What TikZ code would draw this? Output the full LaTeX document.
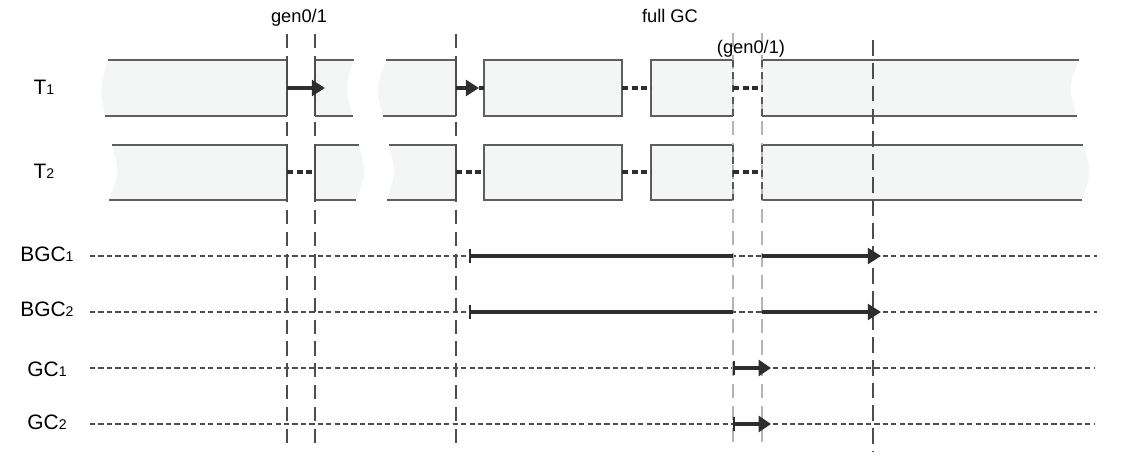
\documentclass[tikz,border=0pt]{standalone}
\usepackage{fontspec}
\setmainfont{Liberation Sans}
\usepackage{tikz}
\usetikzlibrary{arrows.meta}
\definecolor{band}{HTML}{F4F5F5}
\definecolor{edge}{HTML}{5E5E5E}
\definecolor{ink}{HTML}{2E2E2E}
\definecolor{guide}{HTML}{B4B4B4}
\newcommand{\ix}[1]{{\fontsize{8pt}{8pt}\selectfont #1}}

\begin{document}
\begin{tikzpicture}[x=0.02cm, y=-0.02cm,
  border/.style={draw=edge, line width=1.2pt},
  bandfill/.style={fill=band},
  vguide/.style={draw=ink!85, line width=0.9pt, dash pattern=on 8pt off 4.5pt},
  vsolid/.style={draw=ink!85, line width=1pt},
  vlight/.style={draw=guide, line width=0.9pt, dash pattern=on 8pt off 4.5pt},
  vcut/.style={draw=ink!80, line width=1pt, dash pattern=on 4pt off 3pt},
  lane/.style={draw=ink!85, line width=1.4pt, dash pattern=on 3pt off 1.8pt},
  wait/.style={draw=ink, line width=2pt, dash pattern=on 3.5pt off 2pt},
  run/.style={draw=ink, line width=2pt, -{Triangle[length=7.5pt,width=9pt]}},
  gcrun/.style={draw=ink, line width=1.8pt, {Bar[width=8pt,line width=1pt]}-{Triangle[length=7pt,width=9pt]}},
  lbl/.style={anchor=base, font=\fontsize{11.9pt}{14pt}\selectfont},
  note/.style={anchor=base, font=\fontsize{10.4pt}{12pt}\selectfont}]

\useasboundingbox (0,0) rectangle (1123,465);

% thread T1
\fill[bandfill] (108,60) -- (287,60) -- (287,116) -- (105,116) .. controls (99.5,88) .. (108,60) -- cycle;
\fill[bandfill] (315,60) -- (354,60) .. controls (344.5,88) .. (353,116) -- (315,116) -- cycle;
\fill[bandfill] (386,60) -- (456,60) -- (456,116) -- (383,116) .. controls (375.5,88) .. (386,60) -- cycle;
\fill[bandfill] (484,60) rectangle (622,116);
\fill[bandfill] (651,60) rectangle (733,116);
\fill[bandfill] (762,60) -- (1079,60) .. controls (1068,88) .. (1077,116) -- (762,116) -- cycle;
\draw[border] (108,60) -- (287,60);
\draw[border] (105,116) -- (287,116);
\draw[border] (315,60) -- (354,60);
\draw[border] (315,116) -- (353,116);
\draw[border] (386,60) -- (456,60);
\draw[border] (383,116) -- (456,116);
\draw[border] (484,60) rectangle (622,116);
\draw[border] (733,60) -- (651,60) -- (651,116) -- (733,116);
\draw[border] (762,60) -- (1079,60);
\draw[border] (762,116) -- (1077,116);

% thread T2
\fill[bandfill] (112,145) -- (287,145) -- (287,200) -- (109,200) .. controls (119.5,172) .. (112,145) -- cycle;
\fill[bandfill] (315,145) -- (359,145) .. controls (366.5,172) .. (356,200) -- (315,200) -- cycle;
\fill[bandfill] (389,145) -- (456,145) -- (456,200) -- (387,200) .. controls (396,172) .. (389,145) -- cycle;
\fill[bandfill] (484,145) rectangle (622,200);
\fill[bandfill] (651,145) rectangle (733,200);
\fill[bandfill] (762,145) -- (1083,145) .. controls (1091.5,172) .. (1082,200) -- (762,200) -- cycle;
\draw[border] (112,145) -- (287,145);
\draw[border] (109,200) -- (287,200);
\draw[border] (315,145) -- (359,145);
\draw[border] (315,200) -- (356,200);
\draw[border] (389,145) -- (456,145);
\draw[border] (387,200) -- (456,200);
\draw[border] (484,145) rectangle (622,200);
\draw[border] (733,145) -- (651,145) -- (651,200) -- (733,200);
\draw[border] (762,145) -- (1083,145);
\draw[border] (762,200) -- (1082,200);

% lanes of the gc threads
\draw[lane] (90,256) -- (1097,256);
\draw[lane] (90,312) -- (1097,312);
\draw[lane] (90,368) -- (1095,368);
\draw[lane] (90,424) -- (1095,424);

% time marks
\foreach \x in {287,315,456} {
  \draw[vguide] (\x,34) -- (\x,446);
  \draw[vsolid] (\x,60) -- (\x,116);
  \draw[vsolid] (\x,145) -- (\x,200);
}
\foreach \x in {733,762} {
  \draw[vlight] (\x,33) -- (\x,446);
  \draw[vcut] (\x,60) -- (\x,116);
  \draw[vcut] (\x,145) -- (\x,200);
}
\draw[vguide, dash pattern=on 9pt off 4pt] (873,40) -- (873,452);

% end points
\coordinate (t1a) at (287,88);  \coordinate (t1b) at (325,88);
\coordinate (t1c) at (456,88);  \coordinate (t1d) at (479,88);
\coordinate (t1e) at (484,88);
\coordinate (t1f) at (622,88);  \coordinate (t1g) at (651,88);
\coordinate (t1h) at (733,88);  \coordinate (t1i) at (762,88);
\coordinate (t2a) at (287,172); \coordinate (t2b) at (315,172);
\coordinate (t2c) at (456,172); \coordinate (t2d) at (484,172);
\coordinate (t2f) at (622,172); \coordinate (t2g) at (651,172);
\coordinate (t2h) at (733,172); \coordinate (t2i) at (762,172);
\coordinate (b1a) at (469,256); \coordinate (b1b) at (733,256);
\coordinate (b1c) at (762,256); \coordinate (b1d) at (881,256);
\coordinate (b2a) at (469,312); \coordinate (b2b) at (733,312);
\coordinate (b2c) at (762,312); \coordinate (b2d) at (881,312);
\coordinate (g1a) at (733,368); \coordinate (g1b) at (771,368);
\coordinate (g2a) at (733,424); \coordinate (g2b) at (771,424);

\draw[run] (t1a) -- (t1b);
\draw[run] (t1c) -- (t1d);
\draw[wait] (t1d) -- (t1e);
\draw[wait] (t1f) -- (t1g);
\draw[wait] (t1h) -- (t1i);
\draw[wait] (t2a) -- (t2b);
\draw[wait] (t2c) -- (t2d);
\draw[wait] (t2f) -- (t2g);
\draw[wait] (t2h) -- (t2i);

\draw[draw=ink, line width=1.8pt, {Bar[width=8pt,line width=1pt]}-] (b1a) -- (b1b);
\draw[run, line width=1.8pt] (b1c) -- (b1d);
\draw[draw=ink, line width=1.8pt, {Bar[width=8pt,line width=1pt]}-] (b2a) -- (b2b);
\draw[run, line width=1.8pt] (b2c) -- (b2d);
\draw[gcrun] (g1a) -- (g1b);
\draw[gcrun] (g2a) -- (g2b);

% labels
\node[lbl] (t1) at (44,95) {T\ix{1}};
\node[lbl] (t2) at (44,179) {T\ix{2}};
\node[lbl] (bgc1) at (47,262) {BGC\ix{1}};
\node[lbl] (bgc2) at (47,317) {BGC\ix{2}};
\node[lbl] (gc1) at (47,377) {GC\ix{1}};
\node[lbl] (gc2) at (47,430) {GC\ix{2}};
\node[note] (young) at (299,23) {gen0/1};
\node[note] (full) at (670,23) {full GC};
\node[note] (young2) at (751,54) {(gen0/1)};
\end{tikzpicture}
\end{document}
